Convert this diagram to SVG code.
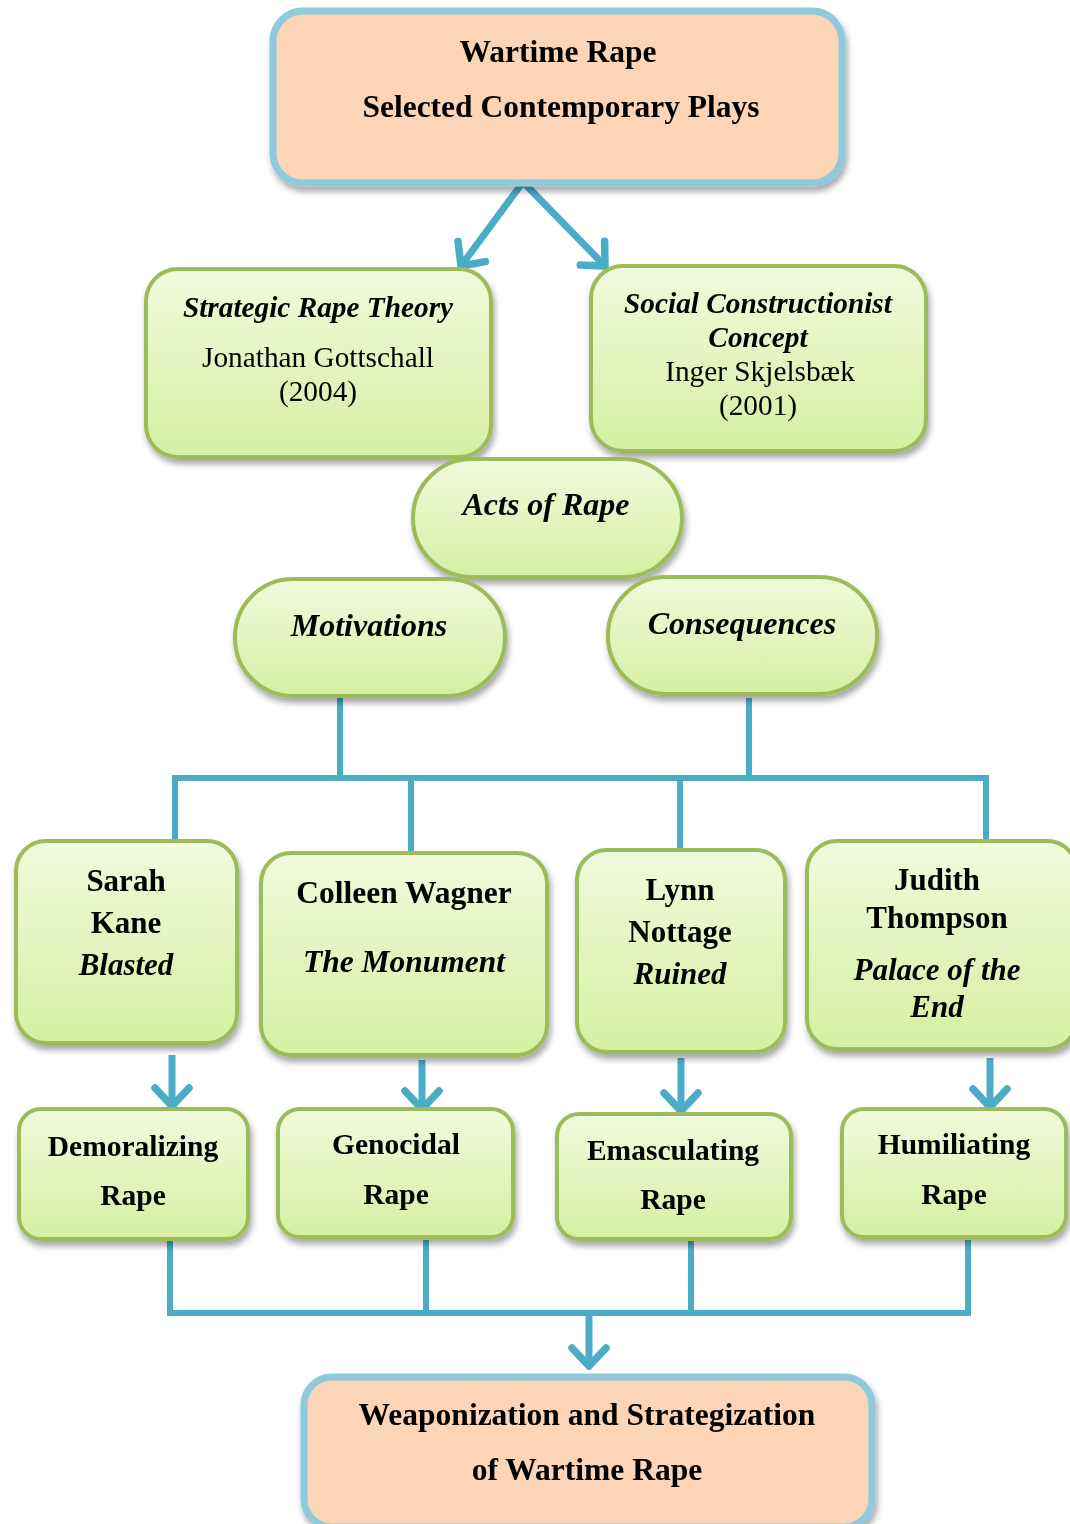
<svg xmlns="http://www.w3.org/2000/svg" width="1070" height="1524" viewBox="0 0 1070 1524">
<style>
text{font-family:"Liberation Serif","Times New Roman",serif;fill:#000;text-anchor:middle}
.b{font-weight:bold}
.bi{font-weight:bold;font-style:italic}
.r{font-weight:normal}
.peach{fill:#FBD5B5;stroke:#8FC9DC;stroke-width:7}
.green{fill:url(#gg);stroke:#9CBB5A;stroke-width:4}
.con{fill:none;stroke:#4BACC6;stroke-width:6;stroke-linecap:butt;stroke-linejoin:miter}
.arr{fill:none;stroke:#4BACC6;stroke-width:7;marker-end:url(#chev)}
</style>
<defs>
<linearGradient id="gg" x1="0" y1="0" x2="0" y2="1">
<stop offset="0" stop-color="#F1FADD"/>
<stop offset="1" stop-color="#D6EFA2"/>
</linearGradient>
<filter id="sh" x="-10%" y="-10%" width="120%" height="130%">
<feDropShadow dx="2" dy="5" stdDeviation="3" flood-color="#000" flood-opacity="0.35"/>
</filter>
<marker id="chev" viewBox="-26 -24 30 48" refX="0" refY="0" markerWidth="30" markerHeight="48" markerUnits="userSpaceOnUse" orient="auto">
<path d="M-18,-17 L0,0 L-18,17" fill="none" stroke="#4BACC6" stroke-width="7.5" stroke-linejoin="miter" stroke-linecap="round"/>
</marker>
</defs>

<g id="connectors">
<line class="arr" x1="523" y1="182" x2="461" y2="266"/>
<line class="arr" x1="523" y1="182" x2="605" y2="266"/>
<path class="con" d="M340,698 V778 M749,698 V778 M172,778 H989 M175,778 V842 M411,778 V852 M680,778 V850 M986,778 V842"/>
<line class="arr" x1="172" y1="1055" x2="172" y2="1106"/>
<line class="arr" x1="422" y1="1060" x2="422" y2="1109"/>
<line class="arr" x1="681" y1="1058" x2="681" y2="1111"/>
<line class="arr" x1="990" y1="1058" x2="990" y2="1107"/>
<path class="con" d="M170,1240 V1313 M426,1240 V1313 M691,1240 V1313 M968,1240 V1313 M167,1313 H971"/>
<line class="arr" x1="589" y1="1313" x2="589" y2="1366"/>
</g>

<g id="n-top" filter="url(#sh)">
<rect class="peach" x="273" y="11" width="569" height="172" rx="30"/>
<text class="b" x="558" y="62" font-size="31.5">Wartime Rape</text>
<text class="b" x="561" y="117" font-size="31.5">Selected Contemporary Plays</text>
</g>

<g id="n-strategic" filter="url(#sh)">
<rect class="green" x="146" y="269" width="345" height="188" rx="32"/>
<text class="bi" x="318" y="317" font-size="29.3">Strategic Rape Theory</text>
<text class="r" x="318" y="367" font-size="29.3">Jonathan Gottschall</text>
<text class="r" x="318" y="401" font-size="29.3">(2004)</text>
</g>

<g id="n-social" filter="url(#sh)">
<rect class="green" x="591" y="266" width="335" height="185" rx="32"/>
<text class="bi" x="758" y="313" font-size="29.3">Social Constructionist</text>
<text class="bi" x="758" y="347" font-size="29.3">Concept</text>
<text class="r" x="760" y="381" font-size="29.3">Inger Skjelsbæk</text>
<text class="r" x="758" y="415" font-size="29.3">(2001)</text>
</g>

<g id="n-acts" filter="url(#sh)">
<rect class="green" x="413" y="459" width="269" height="118" rx="59"/>
<text class="bi" x="546" y="515" font-size="32">Acts of Rape</text>
</g>

<g id="n-motivations" filter="url(#sh)">
<rect class="green" x="235" y="579" width="270" height="117" rx="58"/>
<text class="bi" x="369" y="636" font-size="32">Motivations</text>
</g>

<g id="n-consequences" filter="url(#sh)">
<rect class="green" x="608" y="577" width="269" height="117" rx="58"/>
<text class="bi" x="742" y="634" font-size="32">Consequences</text>
</g>

<g id="n-kane" filter="url(#sh)">
<rect class="green" x="16" y="841" width="221" height="202" rx="30"/>
<text class="b" x="126" y="891" font-size="31">Sarah</text>
<text class="b" x="126" y="933" font-size="31">Kane</text>
<text class="bi" x="126" y="975" font-size="31">Blasted</text>
</g>

<g id="n-wagner" filter="url(#sh)">
<rect class="green" x="261" y="853" width="286" height="202" rx="30"/>
<text class="b" x="404" y="903" font-size="31.5">Colleen Wagner</text>
<text class="bi" x="404" y="972" font-size="31.5">The Monument</text>
</g>

<g id="n-nottage" filter="url(#sh)">
<rect class="green" x="577" y="850" width="208" height="202" rx="30"/>
<text class="b" x="680" y="900" font-size="31">Lynn</text>
<text class="b" x="680" y="942" font-size="31">Nottage</text>
<text class="bi" x="680" y="984" font-size="31">Ruined</text>
</g>

<g id="n-thompson" filter="url(#sh)">
<rect class="green" x="807" y="841" width="270" height="208" rx="30"/>
<text class="b" x="937" y="890" font-size="31">Judith</text>
<text class="b" x="937" y="928" font-size="31">Thompson</text>
<text class="bi" x="937" y="980" font-size="31">Palace of the</text>
<text class="bi" x="937" y="1017" font-size="31">End</text>
</g>

<g id="n-demoralizing" filter="url(#sh)">
<rect class="green" x="19" y="1109" width="229" height="130" rx="22"/>
<text class="b" x="133" y="1156" font-size="29.5">Demoralizing</text>
<text class="b" x="133" y="1205" font-size="29.5">Rape</text>
</g>

<g id="n-genocidal" filter="url(#sh)">
<rect class="green" x="278" y="1109" width="235" height="128" rx="22"/>
<text class="b" x="396" y="1154" font-size="29.5">Genocidal</text>
<text class="b" x="396" y="1204" font-size="29.5">Rape</text>
</g>

<g id="n-emasculating" filter="url(#sh)">
<rect class="green" x="557" y="1114" width="234" height="125" rx="22"/>
<text class="b" x="673" y="1160" font-size="29.5">Emasculating</text>
<text class="b" x="673" y="1209" font-size="29.5">Rape</text>
</g>

<g id="n-humiliating" filter="url(#sh)">
<rect class="green" x="842" y="1109" width="224" height="128" rx="22"/>
<text class="b" x="954" y="1154" font-size="29.5">Humiliating</text>
<text class="b" x="954" y="1204" font-size="29.5">Rape</text>
</g>

<g id="n-bottom" filter="url(#sh)">
<rect class="peach" x="304" y="1377" width="568" height="150" rx="28"/>
<text class="b" x="587" y="1425" font-size="31.5">Weaponization and Strategization</text>
<text class="b" x="587" y="1480" font-size="31.5">of Wartime Rape</text>
</g>
</svg>
